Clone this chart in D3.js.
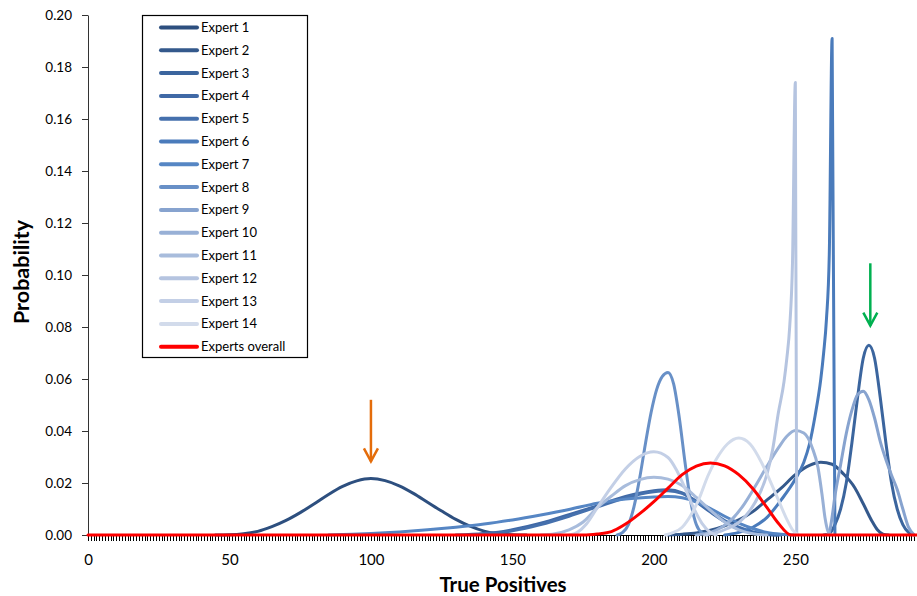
<!DOCTYPE html>
<html>
<head>
<meta charset="utf-8">
<script src="https://cdn.jsdelivr.net/npm/d3@7"></script>
<style>
body { margin: 0; background: #fff; }
text { font-family: Lato, "Liberation Sans", sans-serif; fill: #000; }
</style>
</head>
<body>
<div id="chart"></div>
<script>
// legend names, one per series
var seriesNames = ["Expert 1", "Expert 2", "Expert 3", "Expert 4", "Expert 5", "Expert 6", "Expert 7",
    "Expert 8", "Expert 9", "Expert 10", "Expert 11", "Expert 12", "Expert 13", "Expert 14", "Experts overall"];

// [true positives, probability]
var expert1 = [[45,0],[50,0.0001],[55,0.0005],[60,0.0014],[65,0.0032],[70,0.0056],[75,0.0086],[80,0.012],[85,0.0156],
    [90,0.0187],[95,0.0208],[100,0.0217],[105,0.0209],[110,0.0189],[115,0.016],[120,0.0126],[125,0.0092],[130,0.006],
    [135,0.0034],[140,0.0015],[145,0.0005],[150,0.0001],[155,0]];
var expert2 = [[205,0],[210,0.0003],[215,0.0008],[220,0.0018],[225,0.0035],[230,0.0058],[235,0.009],[240,0.0135],
    [245,0.018],[250,0.0232],[255,0.0268],[259,0.028],[263,0.0272],[267,0.0235],[271,0.0182],[274,0.012],[277,0.0055],
    [279,0.002],[281,0.0003],[283,0]];
var expert3 = [[260,0],[262,0.0005],[264,0.004],[266,0.01],[268,0.02],[270,0.0355],[272,0.053],[274,0.068],[276,0.073],
    [278,0.068],[280,0.053],[282,0.0355],[284,0.02],[286,0.01],[288,0.004],[290,0.001],[292,0]];
var expert4 = [[130,0],[140,0.0006],[145,0.0011],[150,0.002],[160,0.0045],[170,0.0078],[180,0.0112],[190,0.0148],
    [200,0.017],[205,0.0174],[210,0.0162],[215,0.0128],[220,0.0088],[225,0.0052],[230,0.0026],[235,0.001],[240,0.0002],[244,0]];
var expert5 = [[135,0],[145,0.0008],[150,0.0016],[160,0.004],[170,0.0072],[180,0.0108],[190,0.0143],[200,0.0166],
    [205,0.017],[210,0.016],[215,0.013],[220,0.0092],[225,0.0056],[230,0.003],[235,0.0012],[240,0.0003],[245,0]];
var expert6 = [[225,0],[230,0.001],[235,0.003],[240,0.0068],[245,0.0135],[250,0.0215],[253,0.028],[255,0.035],[257,0.046],
    [259,0.06],[260,0.07],[261,0.083],[262,0.108],[263,0.191],[264,0]];
var expert7 = [[85,0],[90,0.0002],[100,0.0006],[110,0.0012],[120,0.002],[130,0.003],[140,0.0042],[150,0.0058],[160,0.0077],
    [170,0.0098],[180,0.0122],[190,0.0138],[200,0.0146],[205,0.0148],[210,0.0143],[215,0.0127],[220,0.0102],[225,0.0072],
    [230,0.0046],[235,0.0025],[240,0.001],[245,0.0003],[250,0]];
var expert8 = [[187,0],[189,0.001],[191,0.004],[193,0.011],[195,0.022],[197,0.035],[199,0.047],[201,0.056],[203,0.061],
    [205,0.0625],[207,0.058],[209,0.045],[211,0.028],[213,0.013],[215,0.004],[217,0.0008],[219,0]];
var expert9 = [[261,0],[262,0.001],[263,0.007],[264,0.015],[266,0.027],[268,0.039],[270,0.048],[272,0.054],[274,0.0553],
    [276,0.052],[278,0.045],[280,0.036],[282,0.029],[284,0.023],[286,0.0175],[288,0.01],[290,0.003],[292,0]];
var expert10 = [[215,0],[220,0.001],[224,0.003],[228,0.0065],[232,0.012],[236,0.019],[240,0.0265],[244,0.0335],[247,0.038],
    [250,0.0402],[253,0.0392],[256,0.0335],[258,0.026],[259.5,0.015],[260.5,0.0065],[261.5,0.0015],[262.5,0]];
var expert11 = [[160,0],[165,0.0005],[170,0.002],[175,0.005],[180,0.0105],[185,0.015],[190,0.019],[195,0.0213],[200,0.0222],
    [205,0.0215],[210,0.019],[215,0.0145],[220,0.0095],[225,0.005],[230,0.002],[235,0.0005],[240,0]];
var expert12 = [[218,0],[222,0.0008],[226,0.0025],[230,0.0048],[234,0.0095],[237,0.015],[240,0.0235],[242,0.033],[244,0.047],
    [246,0.059],[247,0.068],[248,0.08],[249,0.105],[250,0.174],[250.5,0]];
var expert13 = [[170,0],[173,0.001],[176,0.004],[180,0.0105],[185,0.0185],[190,0.0255],[195,0.0302],[200,0.032],[205,0.0298],
    [208,0.025],[211,0.018],[214,0.0105],[217,0.0045],[220,0.001],[222,0]];
var expert14 = [[204,0],[207,0.001],[210,0.003],[213,0.0075],[216,0.014],[219,0.0225],[222,0.029],[226,0.035],[230,0.0373],
    [234,0.035],[238,0.028],[241,0.021],[244,0.0135],[247,0.006],[249,0.002],[251,0]];
var expertsOverall = [[0,0],[175,0],[180,0.0004],[185,0.0013],[190,0.0042],[195,0.0082],[200,0.0128],[205,0.018],[210,0.0232],
    [215,0.0265],[220,0.0277],[225,0.0266],[230,0.0232],[235,0.0178],[240,0.0105],[244,0.0045],[248.5,0],[293,0]];

var allSeries = [expert1, expert2, expert3, expert4, expert5, expert6, expert7, expert8, expert9, expert10,
    expert11, expert12, expert13, expert14, expertsOverall];

var xLabelTicks = [0, 50, 100, 150, 200, 250];
var yTicks = [0, 0.02, 0.04, 0.06, 0.08, 0.10, 0.12, 0.14, 0.16, 0.18, 0.20];

// arrows: [x, from p, to p]
var orangeArrow = [100, 0.052, 0.0283];
var greenArrow = [276.5, 0.1045, 0.0805];

var colors = ["#2d4f7f", "#34598c", "#3b659e", "#4069a6", "#4570ad", "#4a7bbb", "#5686c4", "#6890c7",
    "#87a3cf", "#98b0d6", "#a8bcdc", "#b5c4e0", "#c3cfe6", "#d2dbeb", "#ff0000"];

var width = 917, height = 596;

var svg = d3.select("#chart")
    .append("svg")
    .attr("width", width)
    .attr("height", height);

var x = d3.scaleLinear().domain([0, 293]).range([88, 917]);
var y = d3.scaleLinear().domain([0, 0.2]).range([535, 15]);

// x axis, one tick per unit
var xAxis = svg.append("g")
    .attr("transform", "translate(0," + y(0) + ")")
    .call(d3.axisBottom(x)
        .tickValues(d3.range(0, 293))
        .tickSize(6)
        .tickSizeOuter(0)
        .tickPadding(13)
        .tickFormat(function (d) {
            return xLabelTicks.indexOf(d) >= 0 ? d : "";
        }));
xAxis.selectAll("text").style("font-size", "15px");
xAxis.selectAll("line")
    .attr("stroke", "#000")
    .attr("shape-rendering", "crispEdges");

var yAxis = svg.append("g")
    .attr("transform", "translate(" + x(0) + ",0)")
    .call(d3.axisLeft(y)
        .tickValues(yTicks)
        .tickSize(6)
        .tickSizeOuter(0)
        .tickPadding(10)
        .tickFormat(d3.format(".2f")));
yAxis.selectAll("text").style("font-size", "13.5px");
yAxis.select(".domain").attr("stroke", "#333");
yAxis.selectAll("line").attr("stroke", "#333");

var line = d3.line()
    .x(function (d) { return x(d[0]); })
    .y(function (d) { return y(d[1]); })
    .curve(d3.curveMonotoneX);

svg.append("g")
    .selectAll("path")
    .data(allSeries)
    .enter()
    .append("path")
    .attr("d", line)
    .attr("fill", "none")
    .attr("stroke", function (d, i) { return colors[i]; })
    .attr("stroke-width", 3)
    .attr("stroke-linecap", "round")
    .attr("stroke-linejoin", "round");

// arrows
function drawArrow(a, color) {
    var g = svg.append("g")
        .attr("stroke", color)
        .attr("stroke-width", 2.5)
        .attr("fill", "none");
    var cx = x(a[0]), top = y(a[1]), tip = y(a[2]);
    g.append("line")
        .attr("x1", cx).attr("y1", top)
        .attr("x2", cx).attr("y2", tip);
    g.append("path")
        .attr("d", "M" + (cx - 7) + "," + (tip - 13) + "L" + cx + "," + tip + "L" + (cx + 7) + "," + (tip - 13));
}
drawArrow(orangeArrow, "#e46c0a");
drawArrow(greenArrow, "#00b050");

// legend
var legend = svg.append("g");
legend.append("rect")
    .attr("x", 142.5)
    .attr("y", 15.5)
    .attr("width", 165)
    .attr("height", 342)
    .attr("fill", "#fff")
    .attr("stroke", "#000")
    .attr("stroke-width", 1.2);

var rows = legend.selectAll(".row")
    .data(seriesNames)
    .enter()
    .append("g")
    .attr("transform", function (d, i) {
        return "translate(0," + (27.5 + i * 22.8) + ")";
    });
rows.append("line")
    .attr("x1", 161).attr("x2", 197)
    .attr("stroke", function (d, i) { return colors[i]; })
    .attr("stroke-width", 4)
    .attr("stroke-linecap", "round");
rows.append("text")
    .attr("x", 201)
    .attr("dy", "0.35em")
    .style("font-size", "13px")
    .text(function (d) { return d; });

// axis titles
svg.append("text")
    .attr("x", 503)
    .attr("y", 592)
    .attr("text-anchor", "middle")
    .style("font-size", "20.5px")
    .style("font-weight", "bold")
    .text("True Positives");

svg.append("text")
    .attr("transform", "translate(29,272) rotate(-90)")
    .attr("text-anchor", "middle")
    .style("font-size", "21.5px")
    .style("font-weight", "bold")
    .text("Probability");
</script>
</body>
</html>
